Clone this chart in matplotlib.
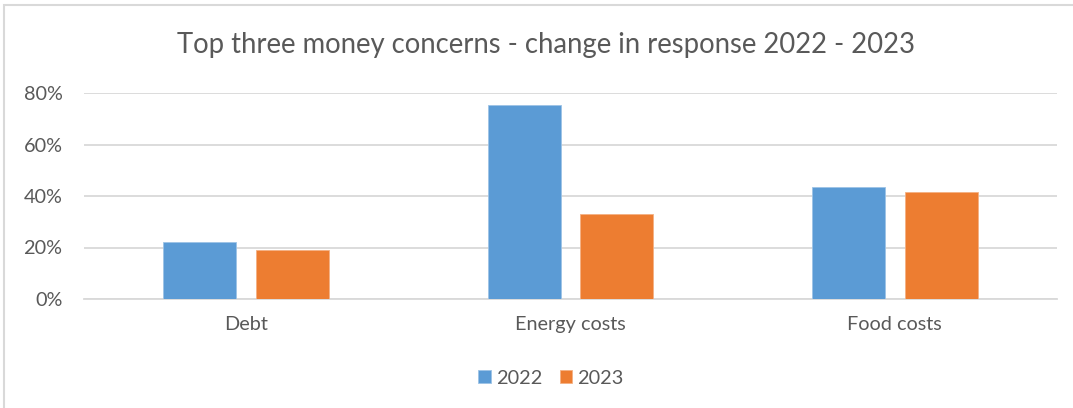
import matplotlib
matplotlib.use("Agg")
import matplotlib.pyplot as plt
from matplotlib.patches import Rectangle
import numpy as np

categories = ["Debt", "Energy costs", "Food costs"]
series_names = ["2022", "2023"]
values_2022 = [0.22, 0.755, 0.435]
values_2023 = [0.19, 0.33, 0.415]
ytick_values = [0.0, 0.2, 0.4, 0.6, 0.8]
ytick_labels = ["0%", "20%", "40%", "60%", "80%"]
title = "Top three money concerns - change in response 2022 - 2023"

blue = "#5b9bd5"
orange = "#ed7d31"
grid_gray = "#d9d9d9"
text_gray = "#595959"

plt.rcParams["font.family"] = ["Lato", "DejaVu Sans"]

W, H = 1073, 408
fig = plt.figure(figsize=(W / 100, H / 100), dpi=100)

# chart frame (extends past the right and bottom edges)
fig.add_artist(Rectangle((4 / W, -0.1), 1.2, (H - 5) / H + 0.1,
                         transform=fig.transFigure, fill=False,
                         edgecolor=grid_gray, linewidth=1.5))

ax = fig.add_axes([84 / W, (H - 299) / H, (1057 - 84) / W, (299 - 93) / H])

x = np.arange(len(categories))
width = 0.225
gap = 0.06
off = width / 2 + gap / 2
ax.bar(x - off, values_2022, width, color=blue, edgecolor="#9dc3e6",
       linewidth=0.6, label=series_names[0], zorder=3)
ax.bar(x + off, values_2023, width, color=orange, edgecolor="#f4b183",
       linewidth=0.6, label=series_names[1], zorder=3)

ax.set_xlim(-0.5, len(categories) - 0.5)
ax.set_ylim(0, 0.8)
ax.set_yticks(ytick_values)
ax.set_yticklabels(ytick_labels)
ax.set_xticks(x)
ax.set_xticklabels(categories)
ax.yaxis.grid(True, color=grid_gray, linewidth=1.3, zorder=0)
ax.set_axisbelow(True)
for side in ["top", "right", "left"]:
    ax.spines[side].set_visible(False)
ax.spines["bottom"].set_color(grid_gray)
ax.spines["bottom"].set_linewidth(1.3)
ax.spines["bottom"].set_zorder(2)
ax.tick_params(axis="both", length=0, colors=text_gray, labelsize=14.3)
ax.tick_params(axis="y", pad=15.5)
ax.tick_params(axis="x", pad=12.5)

fig.text(546 / W, (H - 45) / H, title, ha="center", va="center",
         fontsize=19.8, color=text_gray)

leg = fig.legend(loc="center", bbox_to_anchor=(551 / W, (H - 378) / H),
                 ncol=2, frameon=False, fontsize=14.3, handlelength=0.65,
                 handleheight=0.65, handletextpad=0.25, columnspacing=0.85)
for t in leg.get_texts():
    t.set_color(text_gray)

fig.savefig("out.png", dpi=100, facecolor="white")
